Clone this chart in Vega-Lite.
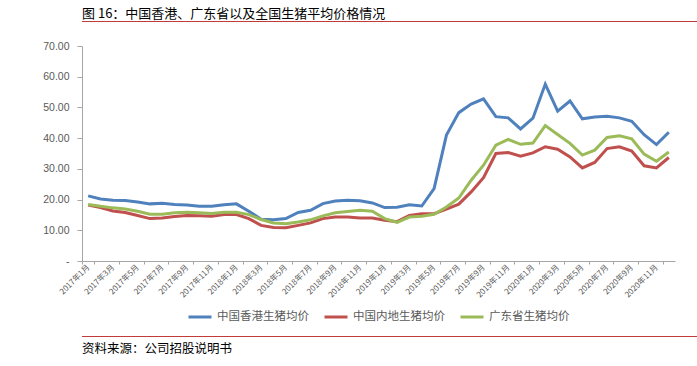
{
  "$schema": "https://vega.github.io/schema/vega-lite/v6.json",
  "padding": {"top": 7, "left": 37, "right": 0, "bottom": 0},
  "background": "white",
  "config": {"view": {"stroke": null}, "legend": {"layout": {"bottom": {"anchor": "middle"}}}},
  "columns": 1,
  "align": "none",
  "spacing": 10,
  "resolve": {"legend": {"color": "independent"}, "scale": {"color": "independent"}},
  "concat": [
    {
      "width": 660,
      "height": 1,
      "data": {"values": [{}]},
      "mark": {"type": "point", "opacity": 0},
      "encoding": {},
      "view": {"fill": "#c23b3b", "stroke": null},
      "title": {"text": "图 16：中国香港、广东省以及全国生猪平均价格情况", "anchor": "start", "offset": -2, "fontSize": 13, "font": "Noto Sans CJK SC", "fontWeight": "normal", "color": "#000000"}
    },
    {
      "width": 593,
      "height": 215,
      "title": {"text": " ", "fontSize": 2, "offset": 4},
      "data": {"values": [
        {"month": "2017年1月", "中国香港生猪均价": 21.2, "中国内地生猪均价": 18.2, "广东省生猪均价": 18.4},
        {"month": "2017年2月", "中国香港生猪均价": 20.2, "中国内地生猪均价": 17.4, "广东省生猪均价": 17.8},
        {"month": "2017年3月", "中国香港生猪均价": 19.8, "中国内地生猪均价": 16.3, "广东省生猪均价": 17.3},
        {"month": "2017年4月", "中国香港生猪均价": 19.7, "中国内地生猪均价": 15.8, "广东省生猪均价": 16.9},
        {"month": "2017年5月", "中国香港生猪均价": 19.2, "中国内地生猪均价": 14.8, "广东省生猪均价": 16.2},
        {"month": "2017年6月", "中国香港生猪均价": 18.6, "中国内地生猪均价": 13.8, "广东省生猪均价": 15.2},
        {"month": "2017年7月", "中国香港生猪均价": 18.8, "中国内地生猪均价": 14.0, "广东省生猪均价": 15.2},
        {"month": "2017年8月", "中国香港生猪均价": 18.4, "中国内地生猪均价": 14.5, "广东省生猪均价": 15.7},
        {"month": "2017年9月", "中国香港生猪均价": 18.2, "中国内地生猪均价": 14.8, "广东省生猪均价": 15.9},
        {"month": "2017年10月", "中国香港生猪均价": 17.8, "中国内地生猪均价": 14.7, "广东省生猪均价": 15.7},
        {"month": "2017年11月", "中国香港生猪均价": 17.8, "中国内地生猪均价": 14.6, "广东省生猪均价": 15.5},
        {"month": "2017年12月", "中国香港生猪均价": 18.3, "中国内地生猪均价": 15.1, "广东省生猪均价": 15.9},
        {"month": "2018年1月", "中国香港生猪均价": 18.6, "中国内地生猪均价": 15.1, "广东省生猪均价": 15.9},
        {"month": "2018年2月", "中国香港生猪均价": 16.2, "中国内地生猪均价": 13.8, "广东省生猪均价": 15.1},
        {"month": "2018年3月", "中国香港生猪均价": 13.6, "中国内地生猪均价": 11.6, "广东省生猪均价": 13.5},
        {"month": "2018年4月", "中国香港生猪均价": 13.4, "中国内地生猪均价": 10.9, "广东省生猪均价": 12.4},
        {"month": "2018年5月", "中国香港生猪均价": 13.8, "中国内地生猪均价": 10.8, "广东省生猪均价": 12.1},
        {"month": "2018年6月", "中国香港生猪均价": 15.8, "中国内地生猪均价": 11.6, "广东省生猪均价": 12.7},
        {"month": "2018年7月", "中国香港生猪均价": 16.5, "中国内地生猪均价": 12.4, "广东省生猪均价": 13.4},
        {"month": "2018年8月", "中国香港生猪均价": 18.7, "中国内地生猪均价": 13.8, "广东省生猪均价": 14.7},
        {"month": "2018年9月", "中国香港生猪均价": 19.5, "中国内地生猪均价": 14.3, "广东省生猪均价": 15.7},
        {"month": "2018年10月", "中国香港生猪均价": 19.8, "中国内地生猪均价": 14.3, "广东省生猪均价": 16.1},
        {"month": "2018年11月", "中国香港生猪均价": 19.6, "中国内地生猪均价": 14.0, "广东省生猪均价": 16.5},
        {"month": "2018年12月", "中国香港生猪均价": 18.9, "中国内地生猪均价": 14.0, "广东省生猪均价": 16.2},
        {"month": "2019年1月", "中国香港生猪均价": 17.4, "中国内地生猪均价": 13.3, "广东省生猪均价": 13.8},
        {"month": "2019年2月", "中国香港生猪均价": 17.5, "中国内地生猪均价": 12.8, "广东省生猪均价": 12.6},
        {"month": "2019年3月", "中国香港生猪均价": 18.3, "中国内地生猪均价": 14.8, "广东省生猪均价": 14.3},
        {"month": "2019年4月", "中国香港生猪均价": 17.9, "中国内地生猪均价": 15.4, "广东省生猪均价": 14.6},
        {"month": "2019年5月", "中国香港生猪均价": 23.6, "中国内地生猪均价": 15.4, "广东省生猪均价": 15.2},
        {"month": "2019年6月", "中国香港生猪均价": 41.0, "中国内地生猪均价": 16.9, "广东省生猪均价": 17.6},
        {"month": "2019年7月", "中国香港生猪均价": 48.3, "中国内地生猪均价": 18.5, "广东省生猪均价": 20.5},
        {"month": "2019年8月", "中国香港生猪均价": 51.1, "中国内地生猪均价": 22.5, "广东省生猪均价": 26.3},
        {"month": "2019年9月", "中国香港生猪均价": 52.8, "中国内地生猪均价": 27.1, "广东省生猪均价": 31.2},
        {"month": "2019年10月", "中国香港生猪均价": 47.0, "中国内地生猪均价": 35.0, "广东省生猪均价": 37.7},
        {"month": "2019年11月", "中国香港生猪均价": 46.6, "中国内地生猪均价": 35.3, "广东省生猪均价": 39.6},
        {"month": "2019年12月", "中国香港生猪均价": 43.0, "中国内地生猪均价": 34.1, "广东省生猪均价": 38.0},
        {"month": "2020年1月", "中国香港生猪均价": 46.5, "中国内地生猪均价": 35.2, "广东省生猪均价": 38.4},
        {"month": "2020年2月", "中国香港生猪均价": 57.6, "中国内地生猪均价": 37.2, "广东省生猪均价": 44.1},
        {"month": "2020年3月", "中国香港生猪均价": 48.8, "中国内地生猪均价": 36.4, "广东省生猪均价": 41.2},
        {"month": "2020年4月", "中国香港生猪均价": 52.1, "中国内地生猪均价": 33.9, "广东省生猪均价": 38.3},
        {"month": "2020年5月", "中国香港生猪均价": 46.3, "中国内地生猪均价": 30.3, "广东省生猪均价": 34.5},
        {"month": "2020年6月", "中国香港生猪均价": 46.9, "中国内地生猪均价": 32.1, "广东省生猪均价": 36.1},
        {"month": "2020年7月", "中国香港生猪均价": 47.1, "中国内地生猪均价": 36.6, "广东省生猪均价": 40.2},
        {"month": "2020年8月", "中国香港生猪均价": 46.6, "中国内地生猪均价": 37.2, "广东省生猪均价": 40.8},
        {"month": "2020年9月", "中国香港生猪均价": 45.5, "中国内地生猪均价": 35.8, "广东省生猪均价": 39.8},
        {"month": "2020年10月", "中国香港生猪均价": 41.1, "中国内地生猪均价": 31.0, "广东省生猪均价": 34.8},
        {"month": "2020年11月", "中国香港生猪均价": 37.9, "中国内地生猪均价": 30.3, "广东省生猪均价": 32.5},
        {"month": "2020年12月", "中国香港生猪均价": 41.9, "中国内地生猪均价": 33.7, "广东省生猪均价": 35.5}
      ]},
      "transform": [{"fold": ["中国香港生猪均价", "中国内地生猪均价", "广东省生猪均价"], "as": ["series", "price"]}],
      "mark": {"type": "line", "strokeWidth": 3},
      "encoding": {
        "x": {
          "field": "month", "type": "ordinal", "sort": null,
          "scale": {"type": "band", "paddingInner": 0, "paddingOuter": 0},
          "bandPosition": 0.5,
          "axis": {
            "title": null,
            "values": ["2017年1月","2017年3月","2017年5月","2017年7月","2017年9月","2017年11月","2018年1月","2018年3月","2018年5月","2018年7月","2018年9月","2018年11月","2019年1月","2019年3月","2019年5月","2019年7月","2019年9月","2019年11月","2020年1月","2020年3月","2020年5月","2020年7月","2020年9月","2020年11月"],
            "tickBand": "extent",
            "labelAngle": -45, "labelAlign": "right", "labelBaseline": "middle",
            "labelFontSize": 8, "labelFont": "Noto Sans CJK SC", "labelColor": "#595959",
            "labelOverlap": false, "labelPadding": 2,
            "tickSize": 3, "tickColor": "#a6a6a6", "domainColor": "#a6a6a6", "grid": false
          }
        },
        "y": {
          "field": "price", "type": "quantitative",
          "scale": {"domain": [0, 70]},
          "axis": {
            "title": null,
            "values": [0, 10, 20, 30, 40, 50, 60, 70],
            "labelExpr": "datum.value == 0 ? '-' : format(datum.value, '.2f')",
            "labelFontSize": 10.5, "labelFont": "Liberation Sans", "labelColor": "#595959",
            "labelPadding": 8, "tickSize": 5, "tickColor": "#a6a6a6", "domainColor": "#a6a6a6",
            "grid": false, "minExtent": 45
          }
        },
        "color": {
          "field": "series", "type": "nominal",
          "scale": {"domain": ["中国香港生猪均价", "中国内地生猪均价", "广东省生猪均价"], "range": ["#4f81bd", "#c0504d", "#9bbb59"]},
          "legend": {
            "title": null, "orient": "bottom", "direction": "horizontal",
            "symbolType": "stroke", "symbolSize": 529, "symbolStrokeWidth": 3,
            "labelFontSize": 11.5, "labelFont": "Noto Sans CJK SC", "labelColor": "#595959",
            "columnPadding": 9, "labelOffset": 4, "offset": 5
          }
        }
      }
    },
    {
      "width": 660,
      "height": 1,
      "data": {"values": [{}]},
      "mark": {"type": "point", "opacity": 0},
      "encoding": {},
      "view": {"fill": "#c23b3b", "stroke": null},
      "title": {"text": "资料来源：公司招股说明书", "orient": "bottom", "anchor": "start", "offset": 4, "fontSize": 12.5, "font": "Noto Sans CJK SC", "fontWeight": "normal", "color": "#000000"}
    }
  ]
}
